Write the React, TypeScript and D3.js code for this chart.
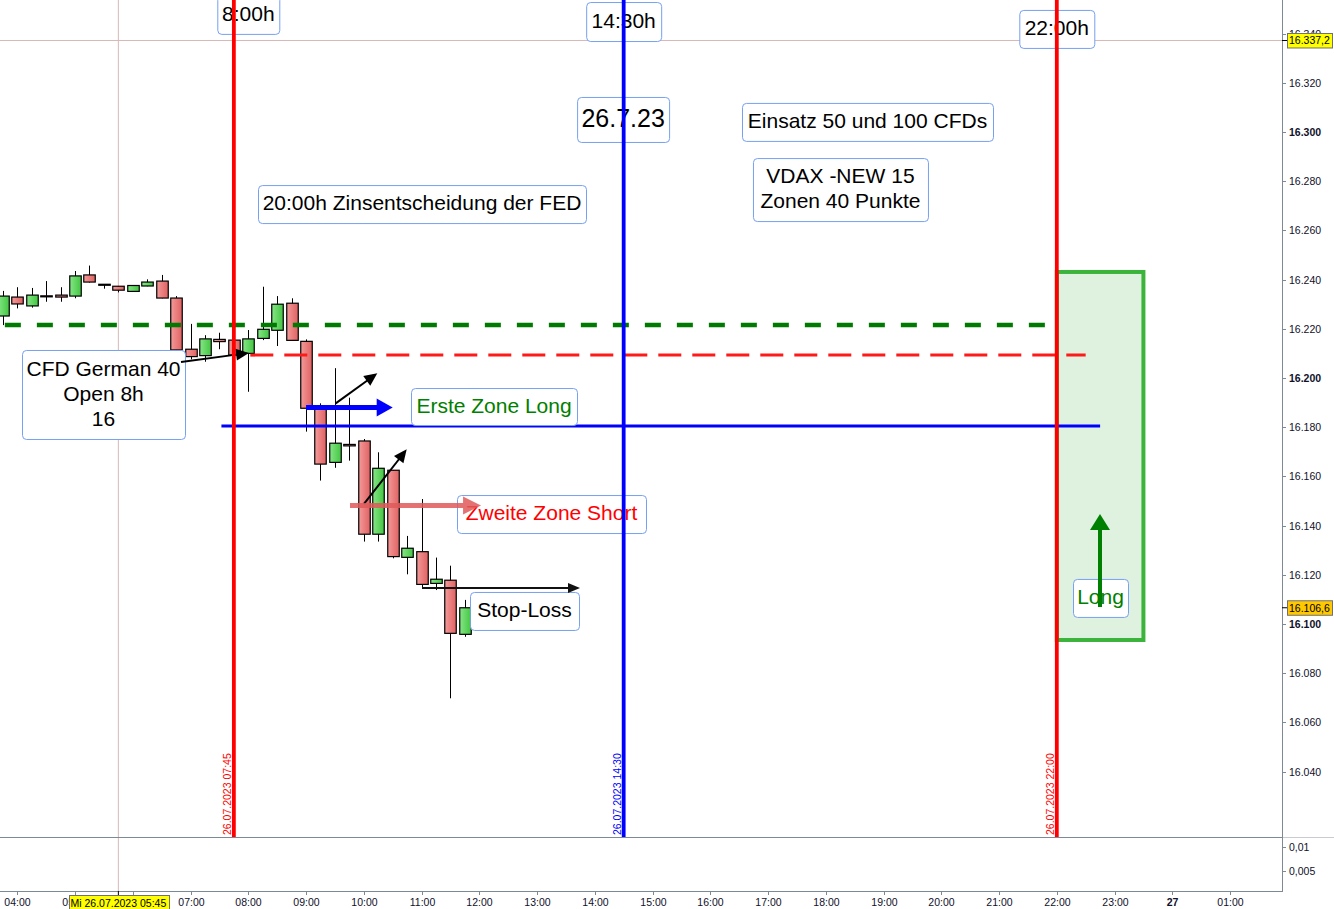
import React, { useEffect, useRef } from "react";
import * as d3 from "d3";

// 15-min candles, CFD German 40, 26.07.2023
const times = ["03:45","04:00","04:15","04:30","04:45","05:00","05:15","05:30","05:45","06:00","06:15","06:30","06:45","07:00","07:15","07:30","07:45","08:00","08:15","08:30","08:45","09:00","09:15","09:30","09:45","10:00","10:15","10:30","10:45","11:00","11:15","11:30","11:45"];
const open = [16225.2,16232.9,16229.3,16233.4,16233.7,16233.3,16241.9,16238.1,16237.3,16235.2,16237.4,16239.4,16232.5,16211.7,16209.1,16215.7,16215.4,16210.0,16216.1,16219.4,16230.4,16214.9,16187.3,16165.7,16173.0,16174.4,16136.5,16162.5,16127.1,16129.4,16116.5,16117.8,16095.8];
const high = [16235.4,16236.9,16236.6,16239.4,16236.9,16243.5,16245.7,16238.2,16237.4,16237.8,16240.1,16241.9,16233.3,16222.0,16217.4,16218.4,16217.1,16219.5,16237.1,16233.3,16232.4,16215.7,16189.7,16204.0,16192.0,16175.2,16169.8,16162.6,16135.8,16150.8,16127.0,16123.7,16109.8];
const low = [16221.5,16228.3,16228.6,16231.0,16231.0,16232.4,16238.8,16236.3,16234.8,16235.1,16237.3,16232.4,16208.7,16207.6,16206.6,16211.7,16208.1,16194.4,16215.4,16213.0,16215.2,16178.2,16158.3,16163.5,16166.4,16133.5,16133.5,16126.7,16120.2,16114.8,16113.8,16069.8,16094.8];
const close = [16233.3,16230.1,16233.7,16233.2,16232.9,16241.5,16239.0,16238.1,16235.7,16237.6,16239.0,16232.5,16211.4,16208.7,16215.9,16214.8,16209.3,16215.9,16219.8,16230.0,16215.3,16187.7,16165.0,16173.5,16172.4,16136.5,16163.3,16127.4,16130.8,16116.1,16118.2,16096.2,16106.6];

const hourTicks = [4,5,6,7,8,9,10,11,12,13,14,15,16,17,18,19,20,21,22,23,24,25];
const hourLabels = ["04:00","05:00","06:00","07:00","08:00","09:00","10:00","11:00","12:00","13:00","14:00","15:00","16:00","17:00","18:00","19:00","20:00","21:00","22:00","23:00","27","01:00"];
const priceTicks = [16040,16060,16080,16100,16120,16140,16160,16180,16200,16220,16240,16260,16280,16300,16320,16340];
const lowerTicks = [0.01, 0.005];
const lowerLabels = ["0,01", "0,005"];

// vertical markers: time, color, label
const vMarkers = [
  { t: "07:45", color: "#ff0000", label: "26.07.2023 07:45" },
  { t: "14:30", color: "#0000ff", label: "26.07.2023 14:30" },
  { t: "22:00", color: "#ff0000", label: "26.07.2023 22:00" },
];

// horizontal levels
const levels = [
  { price: 16221.5, from: "03:45", to: "22:00", color: "#007a00", width: 4.5, dash: "16 16" },
  { price: 16209.3, from: "08:00", to: "22:30", color: "#ff1a1a", width: 3, dash: "23 11" },
  { price: 16180.5, from: "07:30", to: "22:45", color: "#0000ff", width: 3, dash: "" },
];

const crossTime = "05:45";
const crossPrice = 16337.2;
const lastPrice = 16106.6;

// annotation boxes: center time (h), center price, size px
const boxes = [
  { lines: ["8:00h"], h: 8.0, p: 16347.6, w: 62, ht: 38, color: "#000", size: 21 },
  { lines: ["14:30h"], h: 14.5, p: 16344.9, w: 75, ht: 39, color: "#000", size: 21 },
  { lines: ["22:00h"], h: 22.0, p: 16341.9, w: 75, ht: 38, color: "#000", size: 21 },
  { lines: ["26.7.23"], h: 14.49, p: 16305.1, w: 92, ht: 45, color: "#000", size: 25 },
  { lines: ["Einsatz 50 und 100 CFDs"], h: 18.722, p: 16304.1, w: 251, ht: 38, color: "#000", size: 21 },
  { lines: ["VDAX -NEW 15", "Zonen 40 Punkte"], h: 18.254, p: 16276.6, w: 175, ht: 63, color: "#000", size: 21 },
  { lines: ["20:00h Zinsentscheidung der FED"], h: 11.008, p: 16270.7, w: 328, ht: 38, color: "#000", size: 21 },
  { lines: ["CFD German 40", "Open 8h", "16"], h: 5.493, p: 16193.3, w: 163, ht: 89, color: "#000", size: 21 },
  { lines: ["Erste Zone Long"], h: 12.255, p: 16188.4, w: 166, ht: 37, color: "#008000", size: 21 },
  { lines: ["Zweite Zone Short"], h: 13.25, p: 16144.7, w: 189, ht: 38, color: "#ff0000", size: 21 },
  { lines: ["Stop-Loss"], h: 12.783, p: 16105.3, w: 109, ht: 38, color: "#000", size: 21 },
  { lines: ["Long"], h: 22.757, p: 16110.6, w: 55, ht: 38, color: "#008000", size: 21 },
];

// arrows: from (h,p) to (h,p)
const arrows = [
  { h0: 6.835, p0: 16206.5, h1: 8.012, p1: 16210.2, color: "#000", w: 2, hl: 13, hw: 6, op: 1 },
  { h0: 9.513, p0: 16189.7, h1: 10.234, p1: 16201.9, color: "#000", w: 2, hl: 13, hw: 6, op: 1 },
  { h0: 9.0, p0: 16188.0, h1: 10.5, p1: 16188.0, color: "#0000ff", w: 5, hl: 16, hw: 9, op: 1 },
  { h0: 10.003, p0: 16148.8, h1: 10.743, p1: 16171.0, color: "#000", w: 2, hl: 13, hw: 6, op: 1 },
  { h0: 9.761, p0: 16148.2, h1: 12.03, p1: 16148.2, color: "#e05a5a", w: 5, hl: 18, hw: 9, op: 0.85 },
  { h0: 11.008, p0: 16114.6, h1: 13.744, p1: 16114.6, color: "#111", w: 2, hl: 12, hw: 5, op: 1 },
  { h0: 22.748, p0: 16106.9, h1: 22.748, p1: 16144.7, color: "#008000", w: 4, hl: 16, hw: 10, op: 1 },
];

const zoneBox = { from: "22:00", to: "23:30", top: 16243.1, bottom: 16093.5 };

const W = 1334;
const H = 909;
const RIGHT = 1282;
const MAIN_BOTTOM = 837;
const LOWER_BOTTOM = 891;
const FONT = "'Liberation Sans', Arial, sans-serif";

const toH = (s: string) => {
  const [a, b] = s.split(":").map(Number);
  return a + b / 60;
};

const App = () => {
  const ref = useRef<SVGSVGElement>(null);

  useEffect(() => {
    const svg = d3.select(ref.current);
    svg.selectAll("*").remove();

    const x = d3.scaleLinear().domain([4, 25]).range([17.3, 17.3 + 21 * 57.75]);
    const y = d3.scaleLinear().domain([16100, 16300]).range([624, 132]);
    const yLow = d3.scaleLinear().domain([0, 0.01]).range([895, 847]);
    const fmt = (v: number) => d3.format(",.0f")(v).replace(",", ".");

    const defs = svg.append("defs");
    const gr = defs.append("linearGradient").attr("id", "gRed");
    gr.append("stop").attr("offset", "0%").attr("stop-color", "#f49a9a");
    gr.append("stop").attr("offset", "100%").attr("stop-color", "#e06262");
    const gg = defs.append("linearGradient").attr("id", "gGreen");
    gg.append("stop").attr("offset", "0%").attr("stop-color", "#86e686");
    gg.append("stop").attr("offset", "100%").attr("stop-color", "#42c642");
    defs.append("clipPath").attr("id", "plotClip")
      .append("rect").attr("x", 0).attr("y", 0).attr("width", RIGHT).attr("height", MAIN_BOTTOM);

    svg.append("rect").attr("width", W).attr("height", H).attr("fill", "#fff");

    // crosshair
    const cx = x(toH(crossTime));
    svg.append("line").attr("x1", cx).attr("x2", cx).attr("y1", 0).attr("y2", LOWER_BOTTOM)
      .attr("stroke", "#d9b8b8").attr("stroke-width", 1);
    svg.append("line").attr("x1", 0).attr("x2", RIGHT).attr("y1", y(crossPrice)).attr("y2", y(crossPrice))
      .attr("stroke", "#d9b8b8").attr("stroke-width", 1);

    const plot = svg.append("g").attr("clip-path", "url(#plotClip)");

    // zone box
    plot.append("rect")
      .attr("x", x(toH(zoneBox.from)))
      .attr("y", y(zoneBox.top))
      .attr("width", x(toH(zoneBox.to)) - x(toH(zoneBox.from)))
      .attr("height", y(zoneBox.bottom) - y(zoneBox.top))
      .attr("fill", "#dff2df").attr("stroke", "#3cb43c").attr("stroke-width", 4);

    // candles
    const bw = 11.5;
    const candles = plot.selectAll("g.candle").data(times).enter().append("g").attr("class", "candle");
    candles.append("line")
      .attr("x1", (d) => Math.round(x(toH(d))) + 0.5)
      .attr("x2", (d) => Math.round(x(toH(d))) + 0.5)
      .attr("y1", (d, i) => y(high[i]))
      .attr("y2", (d, i) => y(low[i]))
      .attr("stroke", "#000").attr("stroke-width", 1);
    candles.append("rect")
      .attr("x", (d) => Math.round(x(toH(d))) + 0.5 - bw / 2)
      .attr("y", (d, i) => y(Math.max(open[i], close[i])))
      .attr("width", bw)
      .attr("height", (d, i) => Math.max(1, Math.abs(y(open[i]) - y(close[i]))))
      .attr("fill", (d, i) => (close[i] >= open[i] ? "url(#gGreen)" : "url(#gRed)"))
      .attr("stroke", "#000").attr("stroke-width", 1.2);

    // levels
    levels.forEach((l) => {
      plot.append("line")
        .attr("x1", x(toH(l.from)) + 2).attr("x2", x(toH(l.to)))
        .attr("y1", y(l.price)).attr("y2", y(l.price))
        .attr("stroke", l.color).attr("stroke-width", l.width)
        .attr("stroke-dasharray", l.dash);
    });

    // text boxes
    boxes.forEach((b) => {
      const bx = x(b.h) - b.w / 2;
      const by = y(b.p) - b.ht / 2;
      const g = plot.append("g");
      g.append("rect").attr("x", bx + 0.5).attr("y", by + 0.5).attr("width", b.w).attr("height", b.ht)
        .attr("rx", 4).attr("fill", "#fff").attr("stroke", "#76a0f0").attr("stroke-width", 1);
      const lh = 25;
      b.lines.forEach((t, k) => {
        g.append("text")
          .attr("x", x(b.h))
          .attr("y", y(b.p) + (k - (b.lines.length - 1) / 2) * lh)
          .attr("dy", "0.3em")
          .attr("text-anchor", "middle")
          .attr("font-family", FONT).attr("font-size", b.size)
          .attr("fill", b.color)
          .text(t);
      });
    });

    // arrows
    arrows.forEach((a) => {
      const x0 = x(a.h0), y0 = y(a.p0), x1 = x(a.h1), y1 = y(a.p1);
      const ang = Math.atan2(y1 - y0, x1 - x0);
      const bx = x1 - Math.cos(ang) * a.hl, byy = y1 - Math.sin(ang) * a.hl;
      const g = plot.append("g").attr("opacity", a.op);
      g.append("line").attr("x1", x0).attr("y1", y0).attr("x2", bx + Math.cos(ang) * 2).attr("y2", byy + Math.sin(ang) * 2)
        .attr("stroke", a.color).attr("stroke-width", a.w);
      const px = -Math.sin(ang), py = Math.cos(ang);
      g.append("polygon")
        .attr("points", [
          [x1, y1],
          [bx + px * a.hw, byy + py * a.hw],
          [bx - px * a.hw, byy - py * a.hw],
        ].map((p) => p.join(",")).join(" "))
        .attr("fill", a.color);
    });

    // vertical markers
    vMarkers.forEach((m) => {
      const mx = x(toH(m.t));
      svg.append("line").attr("x1", mx).attr("x2", mx).attr("y1", 0).attr("y2", MAIN_BOTTOM)
        .attr("stroke", m.color).attr("stroke-width", 3.8);
      svg.append("text")
        .attr("transform", `translate(${mx - 3},${MAIN_BOTTOM - 2}) rotate(-90)`)
        .attr("font-family", FONT).attr("font-size", 10.5).attr("fill", m.color)
        .text(m.label);
    });

    // panel frame
    const axisCol = "#7d8a96";
    svg.append("line").attr("x1", 0).attr("x2", W).attr("y1", MAIN_BOTTOM + 0.5).attr("y2", MAIN_BOTTOM + 0.5)
      .attr("stroke", "#c8ccd0");
    svg.append("line").attr("x1", 0).attr("x2", RIGHT).attr("y1", MAIN_BOTTOM + 0.5).attr("y2", MAIN_BOTTOM + 0.5)
      .attr("stroke", axisCol);
    svg.append("line").attr("x1", 0).attr("x2", RIGHT).attr("y1", LOWER_BOTTOM + 0.5).attr("y2", LOWER_BOTTOM + 0.5)
      .attr("stroke", axisCol);
    svg.append("line").attr("x1", RIGHT + 0.5).attr("x2", RIGHT + 0.5).attr("y1", 0).attr("y2", LOWER_BOTTOM + 1)
      .attr("stroke", axisCol);

    // price axis
    const pa = svg.append("g");
    priceTicks.forEach((v) => {
      const yy = Math.round(y(v)) + 0.5;
      pa.append("line").attr("x1", RIGHT).attr("x2", RIGHT + 4).attr("y1", yy).attr("y2", yy).attr("stroke", axisCol);
      pa.append("text").attr("x", RIGHT + 7).attr("y", yy).attr("dy", "0.35em")
        .attr("font-family", FONT).attr("font-size", 10.5)
        .attr("font-weight", v % 100 === 0 ? "bold" : "normal")
        .attr("fill", "#10102a").text(fmt(v));
    });
    lowerTicks.forEach((v, i) => {
      const yy = Math.round(yLow(v)) + 0.5;
      pa.append("line").attr("x1", RIGHT).attr("x2", RIGHT + 4).attr("y1", yy).attr("y2", yy).attr("stroke", axisCol);
      pa.append("text").attr("x", RIGHT + 7).attr("y", yy).attr("dy", "0.35em")
        .attr("font-family", FONT).attr("font-size", 10.5).attr("fill", "#10102a").text(lowerLabels[i]);
    });

    // price badges
    const badge = (price: number, fill: string, label: string) => {
      const yy = y(price);
      pa.append("line").attr("x1", RIGHT).attr("x2", RIGHT + 5).attr("y1", yy).attr("y2", yy).attr("stroke", "#000");
      pa.append("rect").attr("x", RIGHT + 5.5).attr("y", yy - 7).attr("width", 45).attr("height", 14.5)
        .attr("fill", fill).attr("stroke", "#707070");
      pa.append("text").attr("x", RIGHT + 7).attr("y", yy).attr("dy", "0.36em")
        .attr("font-family", FONT).attr("font-size", 10.5).attr("fill", "#000").text(label);
    };
    badge(crossPrice, "#ffff00", "16.337,2");
    badge(lastPrice, "#ffc800", "16.106,6");

    // time axis
    const ta = svg.append("g");
    hourTicks.forEach((h, i) => {
      const xx = Math.round(x(h)) + 0.5;
      ta.append("line").attr("x1", xx).attr("x2", xx).attr("y1", LOWER_BOTTOM).attr("y2", LOWER_BOTTOM + 4)
        .attr("stroke", axisCol);
      ta.append("text").attr("x", xx).attr("y", 906).attr("text-anchor", "middle")
        .attr("font-family", FONT).attr("font-size", 10.5)
        .attr("font-weight", hourLabels[i] === "27" ? "bold" : "normal")
        .attr("fill", "#10102a").text(hourLabels[i]);
    });
    ta.append("line").attr("x1", cx).attr("x2", cx).attr("y1", LOWER_BOTTOM).attr("y2", LOWER_BOTTOM + 4).attr("stroke", "#000");
    ta.append("rect").attr("x", 69.5).attr("y", 895.5).attr("width", 100).attr("height", 14)
      .attr("fill", "#ffff00").attr("stroke", "#707070");
    ta.append("text").attr("x", cx).attr("y", 906.5).attr("text-anchor", "middle")
      .attr("font-family", FONT).attr("font-size", 10.5).attr("fill", "#000").text("Mi 26.07.2023 05:45");
  }, []);

  return (
    <div style={{ position: "absolute", left: 0, top: 0 }}>
      <svg ref={ref} width={W} height={H} style={{ display: "block" }} />
    </div>
  );
};

export default App;
